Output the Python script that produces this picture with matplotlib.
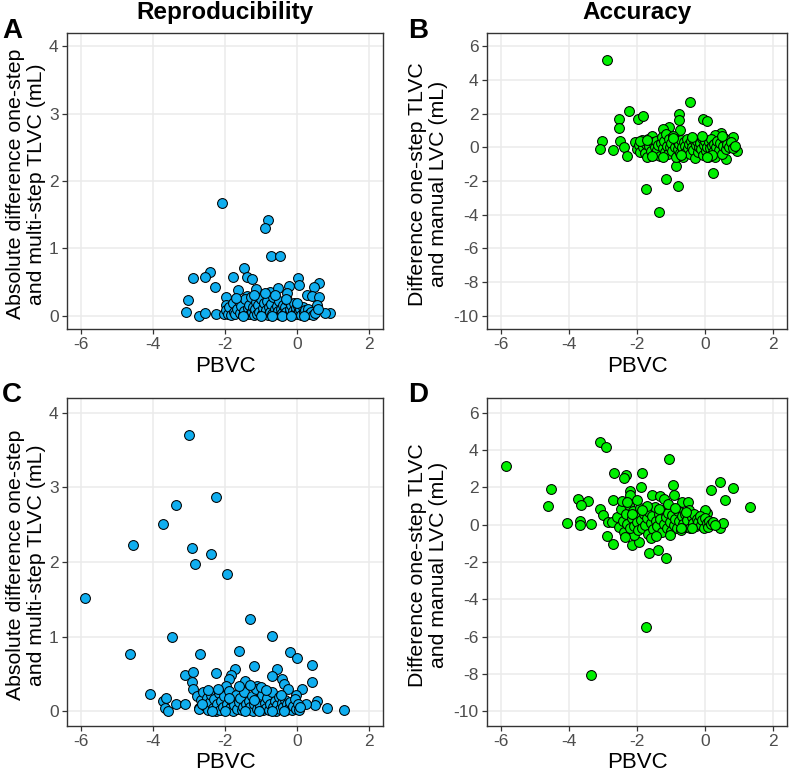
import matplotlib
matplotlib.use("Agg")
import matplotlib.pyplot as plt

plt.rcParams['font.family'] = ['Liberation Sans', 'DejaVu Sans']
plt.rcParams['axes.unicode_minus'] = False

# ---- cohort 1: reproducibility (A) and accuracy (B) ----
a_x = [-2.07, -0.79, -0.88, -0.71, -0.46, -1.48, -2.41, -2.55, -2.89, -1.78,
       -1.39, -1.25, -2.29, -3.03, -3.10, -2.73, -2.55, -2.26, -2.03, 0.02,
       0.06, 0.62, 0.48, -0.23, -0.27, -0.75, -0.52, -1.13, -1.65, -1.96,
       -1.40, 0.27, 0.43, 0.62, 0.92, 0.78, 0.55, -1.98, -1.42, -0.37,
       -1.98, -1.93, -1.88, -1.83, -1.79, -1.74, -1.71, -1.66, -1.62, -1.58,
       -1.55, -1.51, -1.47, -1.44, -1.40, -1.37, -1.34, -1.31, -1.28, -1.25,
       -1.22, -1.19, -1.16, -1.13, -1.10, -1.07, -1.04, -1.01, -0.98, -0.95,
       -0.92, -0.89, -0.86, -0.83, -0.80, -0.77, -0.74, -0.71, -0.68, -0.65,
       -0.62, -0.59, -0.56, -0.53, -0.50, -0.47, -0.44, -0.41, -0.38, -0.35,
       -0.32, -0.29, -0.26, -0.23, -0.20, -0.17, -0.14, -0.11, -0.08, -0.05,
       -0.02, 0.01, 0.04, 0.07, 0.10, 0.13, 0.16, 0.19, 0.23, 0.27,
       0.31, 0.35, 0.40, 0.45, 0.52, 0.58, -1.69, -1.20, -0.90, -0.60,
       -0.30, 0.00, -1.50, -1.00, -0.70, -0.40, -0.15, 0.20]
a_y = [1.68, 1.42, 1.30, 0.88, 0.88, 0.70, 0.64, 0.57, 0.56, 0.58,
       0.57, 0.54, 0.42, 0.23, 0.06, 0.00, 0.04, 0.02, 0.02, 0.56,
       0.45, 0.49, 0.42, 0.44, 0.33, 0.35, 0.41, 0.39, 0.38, 0.27,
       0.29, 0.30, 0.29, 0.28, 0.04, 0.04, 0.15, 0.16, 0.20, 0.19,
       0.08, 0.03, 0.12, 0.01, 0.18, 0.06, 0.02, 0.10, 0.21, 0.04,
       0.14, 0.01, 0.07, 0.24, 0.03, 0.11, 0.16, 0.02, 0.27, 0.05,
       0.13, 0.01, 0.09, 0.20, 0.03, 0.15, 0.06, 0.25, 0.02, 0.11,
       0.18, 0.04, 0.08, 0.22, 0.01, 0.13, 0.05, 0.17, 0.02, 0.28,
       0.09, 0.03, 0.14, 0.07, 0.21, 0.01, 0.10, 0.04, 0.16, 0.02,
       0.12, 0.06, 0.23, 0.03, 0.09, 0.15, 0.01, 0.07, 0.19, 0.04,
       0.11, 0.02, 0.14, 0.06, 0.09, 0.01, 0.12, 0.05, 0.08, 0.03,
       0.10, 0.02, 0.06, 0.01, 0.04, 0.09, 0.26, 0.30, 0.33, 0.30,
       0.25, 0.18, 0.00, 0.00, 0.00, 0.00, 0.00, 0.00]

b_x = [-2.88, -0.46, -2.24, -2.53, -1.96, -1.82, -2.53, -0.78, -0.78, -0.05,
       0.04, -1.07, -1.23, -0.74, -3.02, -3.10, -2.69, -2.49, -2.39, -2.29,
       -1.75, -1.15, -0.80, -1.35, -0.86, 0.22, 0.61, 0.94, 0.81, 0.47,
       0.28,
       -2.05, -2.00, -1.95, -1.90, -1.86, -1.82, -1.78, -1.75, -1.71, -1.68,
       -1.64, -1.60, -1.57, -1.53, -1.50, -1.47, -1.43, -1.40, -1.37, -1.34,
       -1.30, -1.27, -1.24, -1.20, -1.17, -1.14, -1.11, -1.08, -1.05, -1.02,
       -0.99, -0.96, -0.93, -0.90, -0.87, -0.84, -0.81, -0.78, -0.75, -0.72,
       -0.69, -0.66, -0.63, -0.60, -0.57, -0.54, -0.51, -0.48, -0.45, -0.42,
       -0.39, -0.36, -0.33, -0.30, -0.27, -0.24, -0.21, -0.18, -0.15, -0.12,
       -0.09, -0.06, -0.03, 0.00, 0.03, 0.06, 0.09, 0.12, 0.15, 0.18,
       0.21, 0.24, 0.27, 0.30, 0.33, 0.36, 0.40, 0.44, 0.48, 0.52,
       0.56, 0.60, 0.65, 0.70, 0.76, 0.82, 0.88, -1.92, -1.70, -1.25,
       -0.95, -0.40, -0.10, 0.20, 0.50, -1.55, -0.70, 0.05]
b_y = [5.21, 2.67, 2.18, 1.68, 1.68, 1.88, 1.13, 1.98, 1.63, 1.68,
       1.55, 1.19, 1.09, 1.03, 0.36, -0.07, -0.13, 0.40, 0.01, -0.52,
       -2.49, -1.86, -2.32, -3.87, -1.11, -1.55, -0.70, -0.23, 0.64, 0.84,
       0.71,
       0.30, -0.10, 0.15, -0.25, 0.45, 0.05, -0.35, 0.20, -0.55, 0.50,
       0.10, -0.20, 0.65, 0.30, -0.45, 0.00, 0.40, -0.15, 0.15, -0.50,
       0.25, 0.60, -0.05, 0.35, -0.30, 0.80, 0.10, -0.40, 0.50, 0.00,
       0.25, -0.20, 0.70, 0.05, -0.55, 0.35, -0.10, 0.20, -0.35, 0.45,
       0.00, -0.60, 0.30, 0.10, -0.25, 0.50, -0.05, 0.20, -0.40, 0.35,
       0.00, -0.15, 0.45, -0.65, 0.15, 0.40, -0.30, 0.05, 0.25, -0.10,
       0.55, -0.45, 0.15, 0.35, -0.20, 0.05, -0.55, 0.30, -0.05, 0.50,
       0.10, -0.30, 0.20, -0.60, 0.05, 0.40, -0.15, 0.25, -0.40, 0.10,
       0.55, -0.10, 0.20, 0.00, 0.30, -0.05, 0.10, 0.35, 0.45, -0.55,
       0.55, 0.60, 0.70, -0.45, 0.70, -0.50, -0.45, -0.60]

# ---- cohort 2: reproducibility (C) and accuracy (D) ----
c_x = [-3.00, -2.25, -3.37, -3.72, -4.56, -2.93, -2.38, -2.84, -1.94, -5.90,
       -1.31, -0.69, -3.47, -4.65, -2.70, -1.62, -0.18, 0.01, 0.41, 0.41,
       -1.20, -0.55, -3.12, -2.90, -2.25, -1.73, -1.82, -1.88, -0.69, -0.41,
       -1.45, -0.37, -2.93, -2.90, 0.15, -4.09, -3.72, -3.65, -3.68, -3.59,
       -3.37, -3.12, 0.83, 1.32, 0.57, 0.50, 0.25, -0.01, -0.25, -0.95,
       -1.11, -1.97, -2.72,
       -2.78, -2.72, -2.66, -2.60, -2.55, -2.50, -2.46, -2.42, -2.38, -2.34,
       -2.30, -2.26, -2.22, -2.18, -2.14, -2.10, -2.06, -2.02, -1.98, -1.94,
       -1.90, -1.86, -1.82, -1.78, -1.74, -1.70, -1.66, -1.62, -1.58, -1.54,
       -1.50, -1.46, -1.42, -1.38, -1.34, -1.30, -1.26, -1.22, -1.18, -1.14,
       -1.10, -1.06, -1.02, -0.98, -0.94, -0.90, -0.86, -0.82, -0.78, -0.74,
       -0.70, -0.66, -0.62, -0.58, -0.54, -0.50, -0.46, -0.42, -0.38, -0.34,
       -0.30, -0.26, -0.22, -0.18, -0.14, -0.10, -0.06, -0.02, 0.02, 0.06,
       0.10, -2.48, -2.20, -1.60, -1.30, -1.00, -0.85, -2.35, -2.00, -1.45,
       -1.05, -0.70, -0.35, -2.65, -1.88, -1.20, -0.45]
c_y = [3.70, 2.87, 2.77, 2.51, 2.23, 2.19, 2.11, 1.97, 1.84, 1.52,
       1.24, 1.01, 1.00, 0.76, 0.77, 0.80, 0.79, 0.71, 0.62, 0.39,
       0.61, 0.57, 0.48, 0.53, 0.51, 0.56, 0.48, 0.43, 0.47, 0.43,
       0.41, 0.37, 0.39, 0.29, 0.29, 0.23, 0.13, 0.17, 0.04, 0.00,
       0.09, 0.10, 0.04, 0.02, 0.13, 0.08, 0.10, 0.21, 0.30, 0.30,
       0.33, 0.33, 0.04,
       0.20, 0.03, 0.15, 0.25, 0.07, 0.18, 0.01, 0.12, 0.22, 0.04,
       0.16, 0.00, 0.09, 0.24, 0.02, 0.13, 0.06, 0.20, 0.01, 0.10,
       0.27, 0.04, 0.15, 0.00, 0.08, 0.22, 0.03, 0.12, 0.18, 0.01,
       0.06, 0.25, 0.10, 0.02, 0.14, 0.05, 0.20, 0.00, 0.09, 0.30,
       0.03, 0.16, 0.07, 0.22, 0.01, 0.11, 0.04, 0.18, 0.02, 0.09,
       0.25, 0.05, 0.13, 0.00, 0.08, 0.19, 0.03, 0.11, 0.06, 0.15,
       0.01, 0.09, 0.04, 0.12, 0.02, 0.07, 0.16, 0.03, 0.10, 0.01,
       0.05, 0.28, 0.30, 0.33, 0.35, 0.32, 0.28, 0.00, 0.00, 0.00,
       0.00, 0.00, 0.00, 0.10, 0.18, 0.15, 0.22]

d_x = [-5.84, -4.62, -4.53, -3.10, -2.90, -1.05, -2.67, -2.32, -2.39, -1.86,
       -1.87, -0.93, 0.42, 0.82, 0.16, 0.57, 1.32, -4.05, -3.72, -3.43,
       -3.64, -3.67, -3.67, -3.35, -3.35, -1.73, -1.64, -1.38, -1.16, -2.70,
       -2.87, -2.14, -1.94, -2.10, -3.10, -2.99, -2.84, -2.73, -2.70, -2.20,
       -2.21, 0.42, 0.52, 0.04, 0.00, -0.69, -0.50, -0.91, -1.56, -1.32,
       -1.20,
       -2.58, -2.52, -2.47, -2.42, -2.38, -2.33, -2.28, -2.24, -2.20, -2.16,
       -2.12, -2.08, -2.04, -2.00, -1.96, -1.92, -1.88, -1.84, -1.80, -1.76,
       -1.72, -1.68, -1.64, -1.60, -1.56, -1.52, -1.48, -1.44, -1.40, -1.36,
       -1.32, -1.28, -1.24, -1.20, -1.16, -1.12, -1.08, -1.04, -1.00, -0.96,
       -0.92, -0.88, -0.84, -0.80, -0.76, -0.72, -0.68, -0.64, -0.60, -0.56,
       -0.52, -0.48, -0.44, -0.40, -0.36, -0.32, -0.28, -0.24, -0.20, -0.16,
       -0.12, -0.08, -0.04, 0.00, 0.04, 0.08, 0.12, 0.18, 0.24, 0.30,
       -2.44, -2.00, -1.70, -1.10, -2.36, -1.58, -1.02, -0.70, -0.40, -2.30,
       -1.85, -1.35, -0.90, -0.55, -2.15, -1.45]
d_y = [3.15, 0.98, 1.93, 4.42, 4.17, 3.51, 2.77, 2.65, 2.51, 2.77,
       2.02, 2.11, 2.27, 1.99, 1.86, 1.34, 0.95, 0.09, 1.39, 1.27,
       1.07, 0.21, 0.00, 0.03, -8.07, -5.51, -1.53, -1.35, -1.78, -1.03,
       -0.63, -1.10, -0.90, -0.54, 0.84, 0.53, 0.14, 0.14, 1.32, 1.79,
       1.61, -0.15, 0.09, 0.62, 0.80, 1.21, 1.21, 1.57, 1.57, 1.56,
       1.38,
       0.40, -0.10, 0.85, 0.20, -0.40, 0.60, 0.05, 1.05, -0.20, 0.35,
       0.75, -0.05, 0.50, 0.15, -0.30, 0.90, 0.25, -0.15, 0.55, 0.00,
       0.35, -0.50, 0.70, 0.10, 0.45, -0.25, 0.95, 0.20, -0.05, 0.60,
       0.30, -0.40, 0.80, 0.05, 0.40, -0.20, 0.65, 0.15, -0.35, 0.50,
       0.00, 0.30, -0.15, 0.75, 0.20, -0.30, 0.45, 0.05, 0.60, -0.10,
       0.25, 0.80, -0.20, 0.40, 0.10, 0.55, -0.05, 0.30, 0.15, 0.45,
       0.00, 0.25, -0.20, 0.35, 0.10, -0.10, 0.20, 0.05, 0.15, 0.00,
       1.25, 1.35, 1.00, 1.10, -0.65, -0.70, -0.55, -0.20, -0.15, 1.20,
       0.80, 0.85, 0.90, 0.70, 0.60, -0.60]

BLUE = '#10AEEF'
GREEN = '#00F000'

fig = plt.figure(figsize=(7.9, 7.73), dpi=100)
W, H = 790, 773


def make_ax(l, t, r, b):
    return fig.add_axes([l / W, 1 - b / H, (r - l) / W, (b - t) / H])


def style(ax, yticks, ylim):
    ax.set_xlim(-6.4, 2.4)
    ax.set_xticks([-6, -4, -2, 0, 2])
    ax.set_ylim(*ylim)
    ax.set_yticks(yticks)
    ax.grid(True, color='#EBEBEB', lw=1.1)
    ax.set_axisbelow(True)
    for s in ax.spines.values():
        s.set_color('#333333')
        s.set_linewidth(1.0)
    ax.tick_params(colors='#333333', labelcolor='#4D4D4D', labelsize=12.5,
                   length=3.5, width=0.9, pad=2.5)


axA = make_ax(67, 33, 383, 329)
axB = make_ax(487, 33, 787, 329)
axC = make_ax(67, 398, 383, 726)
axD = make_ax(487, 398, 787, 726)

for ax, xs, ys, col in [(axA, a_x, a_y, BLUE), (axB, b_x, b_y, GREEN),
                        (axC, c_x, c_y, BLUE), (axD, d_x, d_y, GREEN)]:
    ax.scatter(xs, ys, s=50, c=col, edgecolors='black', linewidths=0.75, zorder=3)

style(axA, [0, 1, 2, 3, 4], (-0.2, 4.2))
style(axC, [0, 1, 2, 3, 4], (-0.2, 4.2))
style(axB, [6, 4, 2, 0, -2, -4, -6, -8, -10], (-10.8, 6.8))
style(axD, [6, 4, 2, 0, -2, -4, -6, -8, -10], (-10.8, 6.8))

# column titles
fig.text(225 / W, 1 - 19 / H, 'Reproducibility', ha='center', va='baseline',
         fontsize=17.5, fontweight='bold')
fig.text(637 / W, 1 - 19 / H, 'Accuracy', ha='center', va='baseline',
         fontsize=17.5, fontweight='bold')

# panel letters
for txt, x, y in [('A', 2, 38), ('B', 408, 38), ('C', 2, 402), ('D', 408, 402)]:
    fig.text(x / W, 1 - y / H, txt, ha='left', va='baseline',
             fontsize=20, fontweight='bold')

# x labels
for x, y in [(225, 367), (637, 367), (225, 762), (637, 762)]:
    fig.text(x / W, 1 - y / H, 'PBVC', ha='center', va='center', fontsize=16)

# y labels
repro = 'Absolute difference one-step\nand multi-step TLVC (mL)'
acc = 'Difference one-step TLVC\nand manual LVC (mL)'
for txt, x, y in [(repro, 26, 184), (acc, 428, 184), (repro, 26, 565), (acc, 428, 565)]:
    fig.text(x / W, 1 - y / H, txt, ha='center', va='center', rotation=90,
             fontsize=15.3, linespacing=1.1)

fig.savefig('out.png', dpi=100)
